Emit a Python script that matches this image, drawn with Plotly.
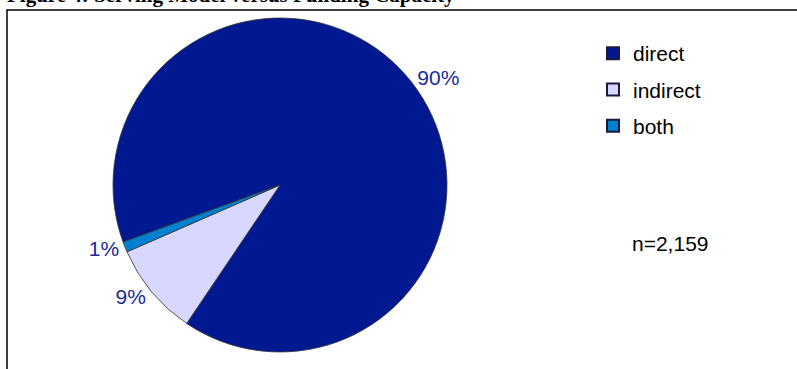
import plotly.graph_objects as go

labels = ["direct", "indirect", "both"]
values = [90, 9, 1]
colors = ["#001890", "#D8D8FF", "#0080D0"]
pct_text = ["90%", "9%", "1%"]
title_text = "Figure 4: Serving Model versus Funding Capacity"
note_text = "n=2,159"

W, H = 797, 369
cx, cy, r = 280, 185, 167
FONT = "Liberation Sans, Arial"

fig = go.Figure()
fig.add_trace(go.Pie(
    labels=labels, values=values, sort=False, direction="clockwise", rotation=250,
    marker=dict(colors=colors, line=dict(color="#333333", width=0.8)),
    text=pct_text, textinfo="text", textposition="outside",
    outsidetextfont=dict(family=FONT, size=21, color="#1a2a9a"),
    domain=dict(x=[(cx - r) / W, (cx + r) / W], y=[(H - cy - r) / H, (H - cy + r) / H]),
    hoverinfo="label+percent", showlegend=False,
))
# legend entries (square swatches) built from the same categories/colours
for lab, col in zip(labels, colors):
    fig.add_trace(go.Scatter(
        x=[None], y=[None], mode="markers", name=lab, legendgroup=lab,
        marker=dict(symbol="square", size=12, color=col, line=dict(color="#1a1a40", width=1)),
        showlegend=True, hoverinfo="skip",
    ))

fig.update_layout(
    width=W, height=H, margin=dict(l=0, r=0, t=0, b=0),
    paper_bgcolor="white", plot_bgcolor="rgba(0,0,0,0)",
    xaxis=dict(visible=False), yaxis=dict(visible=False),
    showlegend=True,
    legend=dict(x=593 / W, y=1 - 33 / H, xanchor="left", yanchor="top",
                font=dict(family=FONT, size=21, color="black"),
                itemsizing="constant", tracegroupgap=6, itemwidth=30,
                bgcolor="rgba(0,0,0,0)"),
    shapes=[dict(type="rect", xref="paper", yref="paper",
                 x0=7 / W, x1=1.01, y0=-0.05, y1=1 - 10 / H,
                 line=dict(color="black", width=1.5), fillcolor="rgba(0,0,0,0)")],
    annotations=[
        dict(text="<b>" + title_text + "</b>", x=5 / W, y=1 - 9 / H, xref="paper", yref="paper",
             xanchor="left", yanchor="bottom", showarrow=False,
             font=dict(family="Liberation Serif, Times New Roman", size=21, color="black")),
        dict(text=note_text, x=630 / W, y=1 - 243 / H, xref="paper", yref="paper",
             xanchor="left", yanchor="middle", showarrow=False,
             font=dict(family=FONT, size=21, color="black")),
    ],
)

fig.write_html("out.html", config={"displayModeBar": False},
               post_script="document.body.style.margin='0';")
